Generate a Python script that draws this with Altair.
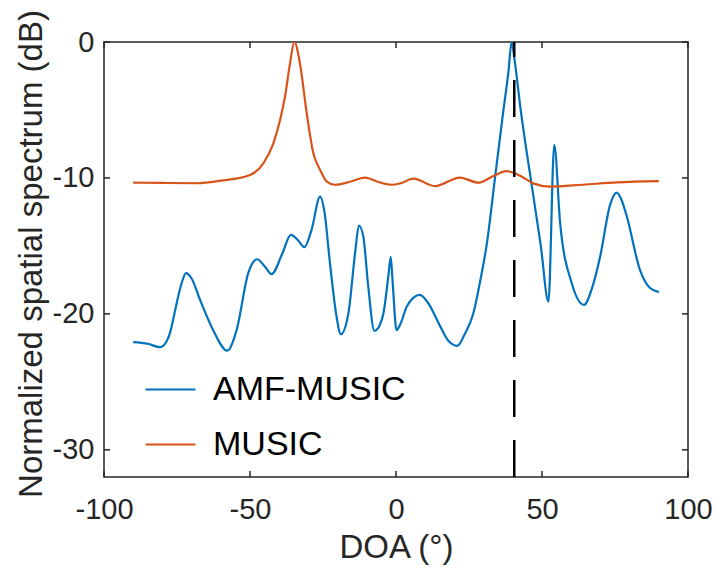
import altair as alt
import pandas as pd

# AMF-MUSIC (blue) spectrum
amf_x = [-90, -85, -80.8, -78.5, -77.4, -75.5, -73.5, -71.9, -70, -67.1, -62.6, -57.8,
         -54.6, -50.6, -47.5, -45, -42.6, -39, -36, -33.5, -31.4, -28.9, -26.0, -24.5,
         -22.6, -20.5, -18.9, -16.3, -14, -12.7, -11.2, -9.5, -7.4, -5.5, -4.3, -2.5,
         -1.8, -1.2, 0.2, 1.4, 3.7, 6, 8.2, 11, 15.1, 18, 21, 23.5, 26.5, 29, 31.0,
         33.9, 36.8, 38.5, 39.6, 40.6, 42.7, 46.1, 49.6, 52.2, 54.2, 56.2, 60.2, 64.4,
         67, 69.9, 73.3, 75.6, 77, 79, 83.6, 87, 90]
amf_y = [-22.08, -22.2, -22.45, -22.0, -21.4, -19.6, -17.8, -17.0, -17.4, -18.97, -21.2, -22.7,
         -21.2, -17.0, -15.98, -16.5, -17.08, -15.6, -14.19, -14.6, -15.1, -13.8, -11.37, -12.5,
         -16.3, -20.0, -21.5, -19.95, -15.5, -13.5, -14.3, -18.0, -21.25, -20.8, -19.95, -17.0,
         -15.8, -17.5, -21.2, -20.8, -19.46, -18.8, -18.6, -19.2, -20.9, -22.0, -22.35, -21.5,
         -19.95, -17.4, -15.0, -10.0, -5.0, -2.2, 0.0, -1.3, -5.0, -10.0, -15.0, -19.1, -7.57,
         -13.3, -17.75, -19.34, -18.2, -15.8, -12.0, -11.08, -11.5, -12.8, -16.8, -18.1, -18.4]

# MUSIC (orange) spectrum
mus_x = [-90, -80, -68.3, -60, -50, -45.4, -42, -39.7, -38, -36.3, -34.8, -32.9, -30.6,
         -28.3, -26, -23.7, -20.9, -16, -10.6, -6, -1.5, 1.4, 6, 13.4, 21.9, 28.2, 33,
         37.9, 43, 47, 52.7, 64, 75.6, 90]
mus_y = [-10.34, -10.37, -10.39, -10.2, -9.78, -8.92, -7.45, -5.74, -4.0, -1.57, 0.0, -1.57, -5.2,
         -8.19, -9.4, -10.27, -10.5, -10.3, -9.97, -10.3, -10.5, -10.4, -10.05, -10.6, -9.97, -10.35, -9.9,
         -9.5, -9.9, -10.4, -10.64, -10.5, -10.33, -10.24]

series_names = ["AMF-MUSIC", "MUSIC"]
series_colors = ["#0072BD", "#D95319"]
true_doa = [40.5]
x_ticks = [-100, -50, 0, 50, 100]
y_ticks = [0, -10, -20, -30]

W, H = 584, 435
FONT = "Liberation Sans"
AX = "#262626"

df = pd.concat([
    pd.DataFrame({"x": amf_x, "y": amf_y, "s": series_names[0], "o": range(len(amf_x))}),
    pd.DataFrame({"x": mus_x, "y": mus_y, "s": series_names[1], "o": range(len(mus_x))}),
])

xscale = alt.Scale(domain=[-100, 100], nice=False, zero=False)
yscale = alt.Scale(domain=[-32, 0], nice=False, zero=False)

xaxis = alt.Axis(values=x_ticks, title="DOA (°)", grid=False, ticks=False, tickSize=0,
                 domain=False, labelFlush=False, labelOverlap=False, labelFont=FONT,
                 labelExpr="toString(datum.value)",
                 labelFontSize=29, labelColor=AX, labelBaseline="alphabetic", labelPadding=41,
                 titleFont=FONT, titleFontSize=33, titleFontWeight="normal", titleColor=AX,
                 titleBaseline="alphabetic", titleX=W / 2, titleY=80)
yaxis = alt.Axis(values=y_ticks, title="Normalized spatial spectrum (dB)", grid=False,
                 ticks=False, tickSize=0, domain=False, labelFlush=False, labelOverlap=False,
                 labelExpr="toString(datum.value)",
                 labelFont=FONT, labelFontSize=29, labelColor=AX, labelPadding=10,
                 titleFont=FONT, titleFontSize=33, titleFontWeight="normal", titleColor=AX,
                 titleBaseline="alphabetic", titleX=-63, titleY=211.5, titleAngle=270)

lines = alt.Chart(df).mark_line(strokeWidth=2.2, interpolate="monotone", clip=True).encode(
    x=alt.X("x:Q", scale=xscale, axis=xaxis),
    y=alt.Y("y:Q", scale=yscale, axis=yaxis),
    order="o:Q",
    color=alt.Color("s:N", scale=alt.Scale(domain=series_names, range=series_colors),
                    sort=series_names,
                    legend=alt.Legend(title=None, orient="none", legendX=40, legendY=321,
                                      symbolType="stroke", symbolSize=2500,
                                      symbolStrokeWidth=2.2, labelFont=FONT,
                                      labelFontSize=34, labelColor="black", labelOffset=16,
                                      labelLimit=600, rowPadding=11, padding=0)),
)

dash = alt.Chart(pd.DataFrame({"x": true_doa})).mark_rule(
    color="black", strokeWidth=2.5, strokeDash=[37, 23]).encode(
    x=alt.X("x:Q", scale=xscale), y=alt.value(H), y2=alt.value(0))

xt = pd.DataFrame({"x": x_ticks})
yt = pd.DataFrame({"y": y_ticks})
tick_style = dict(color=AX, strokeWidth=1.5)
xt_bot = alt.Chart(xt).mark_rule(**tick_style).encode(
    x=alt.X("x:Q", scale=xscale), y=alt.value(H), y2=alt.value(H - 6))
xt_top = alt.Chart(xt).mark_rule(**tick_style).encode(
    x=alt.X("x:Q", scale=xscale), y=alt.value(0), y2=alt.value(6))
yt_left = alt.Chart(yt).mark_rule(**tick_style).encode(
    y=alt.Y("y:Q", scale=yscale), x=alt.value(0), x2=alt.value(6))
yt_right = alt.Chart(yt).mark_rule(**tick_style).encode(
    y=alt.Y("y:Q", scale=yscale), x=alt.value(W), x2=alt.value(W - 6))

chart = alt.layer(lines, dash, xt_bot, xt_top, yt_left, yt_right).properties(
    width=W, height=H,
    autosize=alt.AutoSizeParams(type="none"),
    padding={"left": 96, "top": 34, "right": 30, "bottom": 90},
    background="white",
).configure_view(stroke=AX, strokeWidth=1.5)

chart.save("out.html", embed_options={"renderer": "svg", "actions": False})
